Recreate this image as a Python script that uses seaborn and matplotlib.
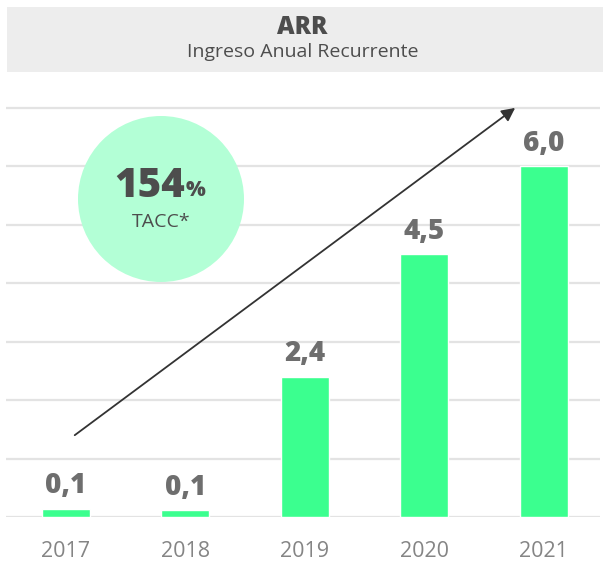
import matplotlib
matplotlib.use("Agg")
import matplotlib.pyplot as plt
import matplotlib.patches as mpatches
import seaborn as sns
import pandas as pd

years = ["2017", "2018", "2019", "2020", "2021"]
arr_values = [0.14, 0.12, 2.4, 4.5, 6.0]
title = "ARR"
subtitle = "Ingreso Anual Recurrente"
cagr_text = "154"
cagr_label = "TACC*"

sns.set_style("white")
plt.rcParams["font.family"] = ["Open Sans", "DejaVu Sans"]

df = pd.DataFrame({"year": years, "arr": arr_values})

fig = plt.figure(figsize=(6.05, 5.61), dpi=100)
W, H = 605, 561
ax = fig.add_axes([6 / W, 1 - 517 / H, 594 / W, 412 / H])

sns.barplot(data=df, x="year", y="arr", color="#3bff8f", width=0.40,
            saturation=1, ax=ax, zorder=3)

ax.set_xlim(-0.50, 4.47)
ax.set_ylim(0, 7.05)
ax.set_yticks(range(0, 8))
ax.yaxis.grid(True, color="#e3e3e3", lw=1.6, zorder=0)
ax.set_axisbelow(True)
for s in ax.spines.values():
    s.set_visible(False)
ax.set_ylabel("")
ax.set_xlabel("")
ax.tick_params(axis="y", left=False, labelleft=False)
ax.tick_params(axis="x", bottom=False, labelsize=15.5, labelcolor="#858585", pad=14)

# value labels
for i, v in enumerate(arr_values):
    ax.annotate(f"{v:.1f}".replace(".", ","), (i, v), xytext=(0, 6),
                textcoords="offset points", ha="center", va="bottom",
                fontsize=20, fontweight="heavy", color="#6e6e6e")

# trend arrow
ax.annotate("", xy=(3.76, 7.0), xytext=(0.075, 1.40),
            arrowprops=dict(arrowstyle="-|>", color="#333333", lw=1.3,
                            mutation_scale=20, shrinkA=0, shrinkB=0),
            annotation_clip=False, zorder=4)

# header box
fig.patches.append(mpatches.Rectangle((7 / W, 1 - 72 / H), 596 / W, 65 / H,
                                      transform=fig.transFigure,
                                      facecolor="#ededed", edgecolor="none", zorder=0))
fig.text(0.5, 1 - 28 / H, title, ha="center", va="center", fontsize=17.5,
         fontweight="heavy", color="#4d4d4d")
fig.text(0.5, 1 - 52 / H, subtitle, ha="center", va="center", fontsize=14,
         color="#4d4d4d")

# CAGR bubble
fig.patches.append(mpatches.Ellipse((161 / W, 1 - 199 / H), 166 / W, 166 / H,
                                    transform=fig.transFigure,
                                    facecolor="#b3ffd6", edgecolor="none", zorder=5))
fig.text(150 / W, 1 - 187 / H, cagr_text, ha="center", va="center", fontsize=29,
         fontweight="heavy", color="#4d4d4d", zorder=6)
fig.text(196 / W, 1 - 191 / H, "%", ha="center", va="center", fontsize=15,
         fontweight="heavy", color="#4d4d4d", zorder=6)
fig.text(161 / W, 1 - 222 / H, cagr_label, ha="center", va="center", fontsize=14,
         color="#4d4d4d", zorder=6)

fig.savefig("out.png", dpi=100)
